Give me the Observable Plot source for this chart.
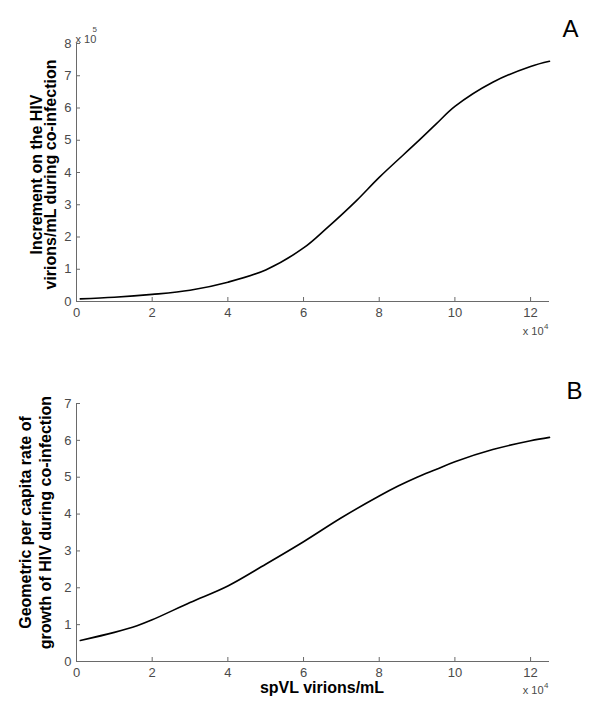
<!DOCTYPE html>
<html>
<head>
<meta charset="utf-8">
<script src="https://cdn.jsdelivr.net/npm/d3@7"></script>
<script src="https://cdn.jsdelivr.net/npm/@observablehq/plot@0.6"></script>
<style>
  html, body { margin: 0; padding: 0; background: #fff; }
  #chart { width: 600px; height: 716px; }
  #chart svg { display: block; }
</style>
</head>
<body>
<div id="chart"></div>
<script>
// spVL (x 10^4 virions/mL)
const xA = [0.1, 1, 2, 3, 4, 5, 6, 6.6, 7.4, 8, 9, 9.5, 10, 11, 12, 12.5];
// Increment on HIV virions/mL during co-infection (x 10^5)
const yA = [0.08, 0.13, 0.22, 0.35, 0.6, 0.98, 1.66, 2.26, 3.13, 3.85, 4.94, 5.5, 6.05, 6.8, 7.29, 7.45];

const xB = [0.1, 1, 1.6, 2, 3, 4, 5, 6, 7, 8, 8.5, 9, 9.5, 10, 11, 12, 12.5];
// Geometric per capita rate of growth of HIV during co-infection
const yB = [0.57, 0.79, 0.97, 1.13, 1.6, 2.05, 2.64, 3.25, 3.9, 4.49, 4.76, 5.0, 5.21, 5.42, 5.75, 5.99, 6.08];

const xTicks = [0, 2, 4, 6, 8, 10, 12];
const yTicksA = [0, 1, 2, 3, 4, 5, 6, 7, 8];
const yTicksB = [0, 1, 2, 3, 4, 5, 6, 7];

const dataA = xA.map((x, i) => ({x, y: yA[i]}));
const dataB = xB.map((x, i) => ({x, y: yB[i]}));

const FONT = "'Liberation Sans', Arial, sans-serif";
const AXIS = "#6a6a6a";
const TXT = "#4a4a4a";
const W = 600, ML = 76, MR = 51, FH = 258, TICK = 4;
const FW = W - ML - MR;

function axes(yTicks) {
  return [
    Plot.axisX({ticks: xTicks, tickSize: 0, tickPadding: 6, fontSize: 13, color: TXT, label: null, tickFormat: d3.format("d")}),
    Plot.axisY({ticks: yTicks, tickSize: 0, tickPadding: 5, fontSize: 13, color: TXT, label: null, tickFormat: d3.format("d")}),
    Plot.tickX(xTicks, {x: d => d, insetTop: FH - TICK, stroke: AXIS}),
    Plot.tickY(yTicks, {y: d => d, insetRight: FW - TICK, stroke: AXIS}),
    Plot.ruleY([0], {stroke: AXIS}),
    Plot.ruleX([0], {stroke: AXIS})
  ];
}

const plotA = Plot.plot({
  width: W, height: 345,
  marginLeft: ML, marginRight: MR, marginTop: 43, marginBottom: 44,
  style: {fontFamily: FONT, background: "#fff", overflow: "visible"},
  x: {domain: [0, 12.5]},
  y: {domain: [0, 8]},
  marks: [
    ...axes(yTicksA),
    Plot.line(dataA, {x: "x", y: "y", stroke: "#000", strokeWidth: 1.6, curve: "catmull-rom"}),
    Plot.text(["Increment on the HIV\nvirions/mL during co-infection"], {
      frameAnchor: "left", rotate: -90, dx: -32, dy: 2, fontSize: 16, fontWeight: "bold",
      lineHeight: 0.9, textAnchor: "middle", fill: "#000"
    }),
    Plot.text(["A"], {frameAnchor: "top-right", dx: 21, dy: -24, fontSize: 24, textAnchor: "middle", fill: "#000"}),
    Plot.text(["x 10"], {frameAnchor: "top-left", dx: -1, dy: -8, fontSize: 11, textAnchor: "start", fill: TXT}),
    Plot.text(["5"], {frameAnchor: "top-left", dx: 16, dy: -17, fontSize: 8, textAnchor: "start", fill: TXT}),
    Plot.text(["x 10"], {frameAnchor: "bottom-right", dx: -6, dy: 33, fontSize: 11, textAnchor: "end", fill: TXT}),
    Plot.text(["4"], {frameAnchor: "bottom-right", dx: -1, dy: 27, fontSize: 8, textAnchor: "end", fill: TXT})
  ]
});

const plotB = Plot.plot({
  width: W, height: 371,
  marginLeft: ML, marginRight: MR, marginTop: 58, marginBottom: 55,
  style: {fontFamily: FONT, background: "#fff", overflow: "visible"},
  x: {domain: [0, 12.5]},
  y: {domain: [0, 7]},
  marks: [
    ...axes(yTicksB),
    Plot.line(dataB, {x: "x", y: "y", stroke: "#000", strokeWidth: 1.6, curve: "catmull-rom"}),
    Plot.text(["Geometric per capita rate of\ngrowth of HIV during co-infection"], {
      frameAnchor: "left", rotate: -90, dx: -42, dy: -10, fontSize: 16, fontWeight: "bold",
      lineHeight: 1.25, textAnchor: "middle", fill: "#000"
    }),
    Plot.text(["spVL virions/mL"], {frameAnchor: "bottom", dx: 9, dy: 31, fontSize: 16, fontWeight: "bold", fill: "#000"}),
    Plot.text(["B"], {frameAnchor: "top-right", dx: 25, dy: -22, fontSize: 24, textAnchor: "middle", fill: "#000"}),
    Plot.text(["x 10"], {frameAnchor: "bottom-right", dx: -6, dy: 32, fontSize: 11, textAnchor: "end", fill: TXT}),
    Plot.text(["4"], {frameAnchor: "bottom-right", dx: -1, dy: 26, fontSize: 8, textAnchor: "end", fill: TXT})
  ]
});

const chart = document.getElementById("chart");
chart.appendChild(plotA);
chart.appendChild(plotB);
</script>
</body>
</html>
